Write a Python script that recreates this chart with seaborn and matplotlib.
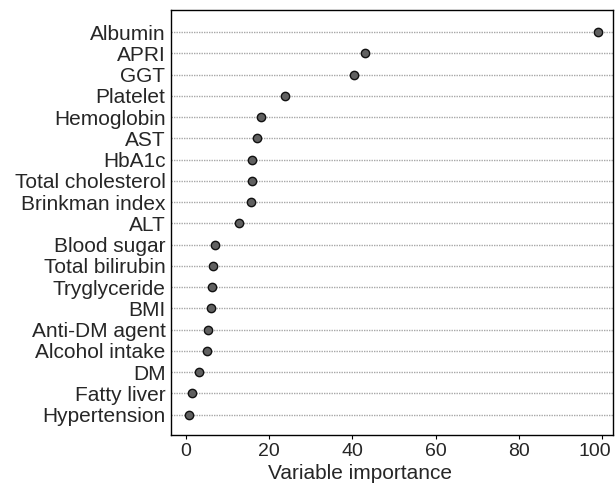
import pandas as pd
import seaborn as sns
from matplotlib import pyplot as plt
from matplotlib.transforms import ScaledTranslation

variables = ['Albumin', 'APRI', 'GGT', 'Platelet', 'Hemoglobin', 'AST', 'HbA1c',
             'Total cholesterol', 'Brinkman index', 'ALT', 'Blood sugar',
             'Total bilirubin', 'Tryglyceride', 'BMI', 'Anti-DM agent',
             'Alcohol intake', 'DM', 'Fatty liver', 'Hypertension']
importance = [99, 43.1, 40.4, 23.9, 18.0, 17.0, 15.9, 15.8, 15.7, 12.7, 7.1,
              6.6, 6.3, 6.0, 5.2, 5.0, 3.2, 1.4, 0.8]
x_ticks = [0, 20, 40, 60, 80, 100]

df = pd.DataFrame({'variable': variables, 'importance': importance})

sns.set_theme(style='white')
plt.rcParams['font.family'] = ['Liberation Sans', 'DejaVu Sans']

fig = plt.figure(figsize=(6.15, 4.87), dpi=100)
ax = fig.add_axes([0.278, 0.107, 0.719, 0.872])

# dotted guide lines, one per variable
for i in range(len(variables)):
    ax.axhline(i, color='#a8a8a8', linestyle=(0, (1, 0.8)), linewidth=1.0, zorder=1)

sns.stripplot(data=df, x='importance', y='variable', order=variables, jitter=False,
              color='#606060', edgecolor='#111111', linewidth=1.0, size=6,
              ax=ax, zorder=3)

ax.set_xlim(-3.6, 102.7)
ax.set_ylim(len(variables) - 1 + 0.95, -1.03)
ax.set_xticks(x_ticks)
ax.set_xticklabels([str(t) for t in x_ticks])
ax.set_xlabel('Variable importance', fontsize=15)
ax.xaxis.set_label_coords(0.428, -0.068)
ax.set_ylabel('')
ax.tick_params(axis='x', direction='out', length=3, width=0.8, labelsize=14, pad=3,
               color='black', bottom=True)
ax.tick_params(axis='y', length=0, labelsize=15, pad=4)
for s in ax.spines.values():
    s.set_color('black')
    s.set_linewidth(1.0)

# nudge the last tick label so it stays inside the figure
last = ax.get_xticklabels()[-1]
last.set_transform(last.get_transform() + ScaledTranslation(-5 / 72, 0, fig.dpi_scale_trans))

fig.savefig('out.png', dpi=100)
